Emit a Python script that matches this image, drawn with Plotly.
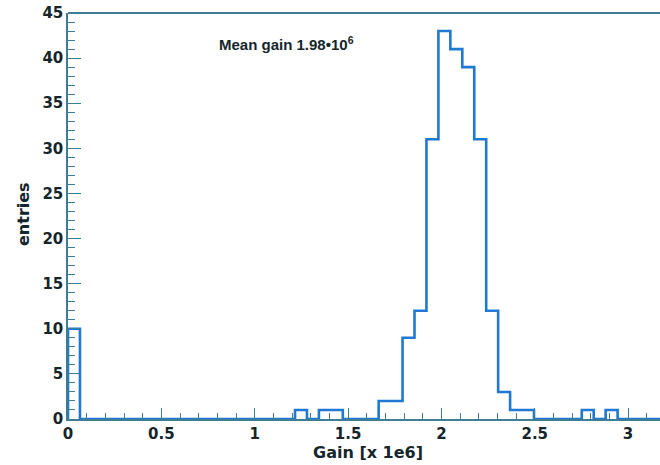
import numpy as np
import plotly.graph_objects as go

# Histogram of PMT gain: 50 bins between 0 and 3.2 (x 1e6)
x_min, x_max = 0.0, 3.2
n_bins = 50
counts = [10, 0, 0, 0, 0, 0, 0, 0, 0, 0,
          0, 0, 0, 0, 0, 0, 0, 0, 0, 1,
          0, 1, 1, 0, 0, 0, 2, 2, 9, 12,
          31, 43, 41, 39, 31, 12, 3, 1, 1, 0,
          0, 0, 0, 1, 0, 1, 0, 0, 0, 0]
y_ticks = [0, 5, 10, 15, 20, 25, 30, 35, 40, 45]
x_ticks = [0, 0.5, 1, 1.5, 2, 2.5, 3]
x_tick_text = ["0", "0.5", "1", "1.5", "2", "2.5", "3"]
title_text = "Mean gain 1.98•10<sup>6</sup>"
x_title = "Gain [x 1e6]"
y_title = "entries"

edges = np.linspace(x_min, x_max, n_bins + 1)
# step outline: start at baseline, rise through each bin, close at x_max
step_x = [x_min] + list(edges[:-1]) + [x_max]
step_y = [0] + counts + [0]

axis_col = "#3f7d96"
text_col = "#14262c"
hist_col = "#1f78d2"
wide_fam = "DejaVu Sans, Verdana, sans-serif"
title_fam = "Liberation Sans, Arial, sans-serif"

W, H = 660, 465
ml, mr, mt, mb = 68, 0, 13, 46
x_view = 3.171  # visible right edge

fig = go.Figure()
fig.add_trace(go.Scatter(
    x=step_x, y=step_y, mode="lines",
    line=dict(color=hist_col, width=2.6, shape="hv"),
    hoverinfo="skip", showlegend=False, cliponaxis=False,
))

tick_font = dict(size=15, family=wide_fam, color=text_col, weight="bold")

fig.update_layout(
    width=W, height=H,
    margin=dict(l=ml, r=mr, t=mt, b=mb),
    paper_bgcolor="white", plot_bgcolor="white",
    font=dict(family=wide_fam, color=text_col, size=15, weight="bold"),
    xaxis=dict(
        range=[x_min, x_view], showgrid=False, zeroline=False,
        showline=True, linecolor=axis_col, linewidth=1.5,
        ticks="inside", ticklen=11, tickwidth=1, tickcolor=axis_col,
        tickvals=x_ticks, ticktext=x_tick_text,
        minor=dict(dtick=0.1, tick0=0, ticks="inside", ticklen=6,
                   tickwidth=1, tickcolor=axis_col),
        tickfont=tick_font,
    ),
    yaxis=dict(
        range=[0, 45], showgrid=False, zeroline=False,
        showline=True, linecolor=axis_col, linewidth=1.5,
        ticks="inside", ticklen=13, tickwidth=1, tickcolor=axis_col,
        tickvals=y_ticks,
        minor=dict(dtick=1, tick0=0, ticks="inside", ticklen=7,
                   tickwidth=1, tickcolor=axis_col),
        tickfont=tick_font,
    ),
    shapes=[dict(type="line", xref="paper", yref="paper",
                 x0=0, x1=1, y0=1, y1=1,
                 line=dict(color=axis_col, width=2))],
    annotations=[
        dict(text=title_text, xref="paper", yref="paper",
             x=(217 - ml) / (W - ml - mr), y=(H - mb - 43) / (H - mt - mb),
             xanchor="left", yanchor="middle", showarrow=False,
             font=dict(size=15, family=title_fam, color=text_col, weight="bold")),
        dict(text=x_title, xref="paper", yref="paper",
             x=(368 - ml) / (W - ml - mr), y=-(452 - (H - mb)) / (H - mt - mb),
             xanchor="center", yanchor="middle", showarrow=False,
             font=dict(size=16, family=wide_fam, color=text_col, weight="bold")),
        dict(text=y_title, xref="paper", yref="paper", textangle=-90,
             x=-(ml - 23) / (W - ml - mr), y=(H - mb - 214) / (H - mt - mb),
             xanchor="center", yanchor="middle", showarrow=False,
             font=dict(size=16, family=wide_fam, color=text_col, weight="bold")),
    ],
)

fig.write_html("out.html")
